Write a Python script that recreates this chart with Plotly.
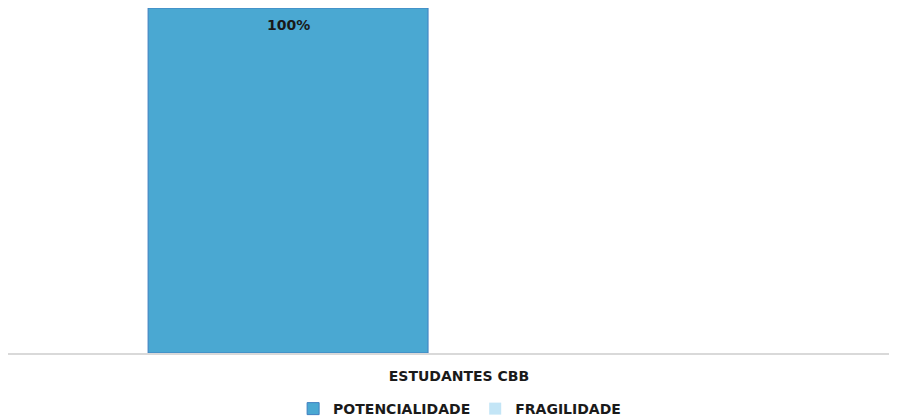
import plotly.graph_objects as go

categories = ["ESTUDANTES CBB"]
potencialidade = [1.0]
fragilidade = [0.0]
series_names = ["POTENCIALIDADE", "FRAGILIDADE"]
value_labels = ["100%"]

font_family = "'DejaVu Sans', sans-serif"
bargap = 0.242
bargroupgap = 0.181

fig = go.Figure()
fig.add_trace(go.Bar(
    x=categories, y=potencialidade, name="<b>" + series_names[0] + "</b>",
    marker=dict(color="#4AA8D2", line=dict(color="#3F7FC0", width=1)),
    textposition="none",
))
fig.add_trace(go.Bar(
    x=categories, y=fragilidade, name="<b>" + series_names[1] + "</b>",
    marker=dict(color="#C3E5F6", line=dict(width=0)),
    textposition="none",
))

# label of first series, placed at the centre of its bar slot
slot = (1 - bargap) / 2
for i, v in enumerate(potencialidade):
    fig.add_annotation(x=i - slot / 2, y=v, xref="x", yref="y", yanchor="top", yshift=-7,
                       text="<b>" + value_labels[i] + "</b>", showarrow=False,
                       font=dict(family=font_family, size=14, color="#1a1a1a"))

fig.update_layout(
    width=889, height=412,
    margin=dict(l=0, r=0, t=0, b=67, autoexpand=False),
    paper_bgcolor="white", plot_bgcolor="white",
    barmode="group", bargap=bargap, bargroupgap=bargroupgap,
    showlegend=True,
    legend=dict(orientation="h", x=0.508, xanchor="center", y=-0.116, yanchor="top",
                font=dict(family=font_family, size=14, color="#1a1a1a"),
                itemwidth=30, tracegroupgap=0),
    font=dict(family=font_family),
)
fig.update_xaxes(range=[-0.5, 0.4856], showline=True, linecolor="#d9d9d9", linewidth=2,
                 showgrid=False, ticks="", ticklabelstandoff=9,
                 tickfont=dict(family=font_family, size=14, color="#1a1a1a"),
                 tickvals=categories, ticktext=["<b>" + c + "</b>" for c in categories])
fig.update_yaxes(range=[0, 1], visible=False)

fig.write_html("out.html")
